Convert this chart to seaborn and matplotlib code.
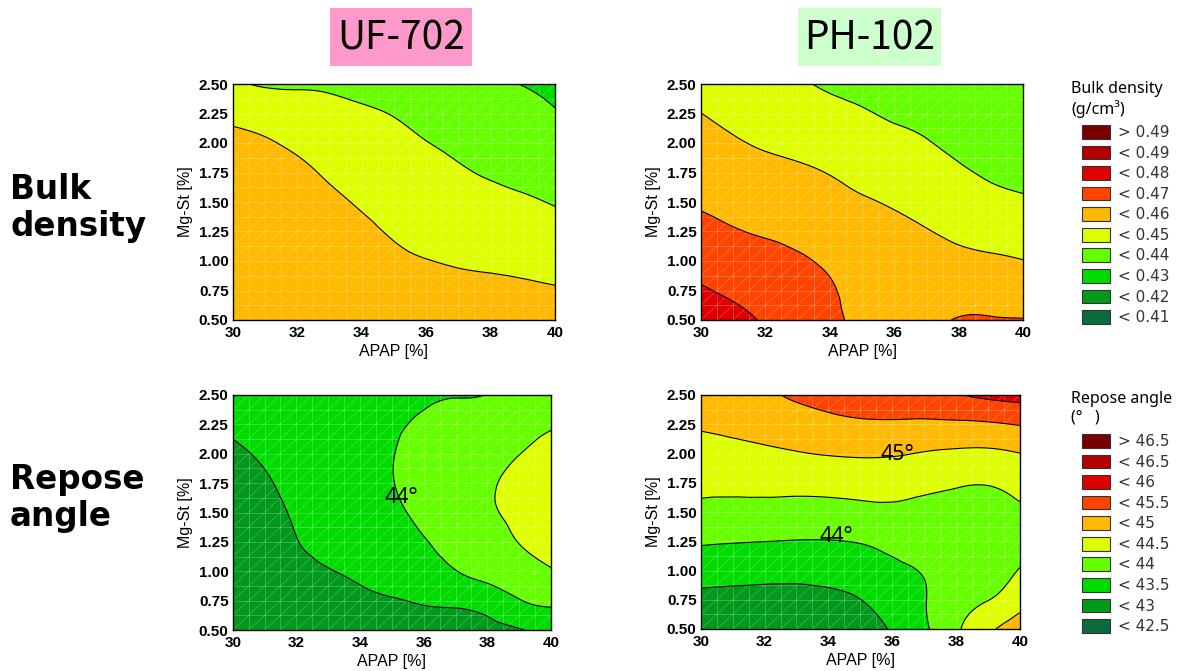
import numpy as np
import matplotlib
matplotlib.use("Agg")
import matplotlib.pyplot as plt
import matplotlib.tri as mtri
import seaborn as sns
from matplotlib.patches import Rectangle, Patch

# ---------------- data ----------------
apap = [30, 31, 32, 33, 34, 35, 36, 37, 38, 39, 40]
mgst = [2.5, 2.25, 2.0, 1.75, 1.5, 1.25, 1.0, 0.75, 0.5]   # rows, top to bottom

uf_bulk = [
    [0.4412, 0.4393, 0.4391, 0.4390, 0.4381, 0.4373, 0.4352, 0.4327, 0.4315, 0.4298, 0.4276],
    [0.4471, 0.4452, 0.4436, 0.4422, 0.4409, 0.4397, 0.4377, 0.4354, 0.4328, 0.4325, 0.4306],
    [0.4531, 0.4512, 0.4480, 0.4455, 0.4436, 0.4421, 0.4402, 0.4382, 0.4359, 0.4353, 0.4336],
    [0.4550, 0.4550, 0.4525, 0.4487, 0.4464, 0.4445, 0.4427, 0.4410, 0.4391, 0.4380, 0.4365],
    [0.4560, 0.4560, 0.4550, 0.4520, 0.4491, 0.4469, 0.4452, 0.4438, 0.4423, 0.4410, 0.4395],
    [0.4565, 0.4565, 0.4560, 0.4545, 0.4519, 0.4492, 0.4477, 0.4466, 0.4454, 0.4445, 0.4431],
    [0.4570, 0.4570, 0.4565, 0.4560, 0.4542, 0.4516, 0.4502, 0.4493, 0.4486, 0.4479, 0.4469],
    [0.4570, 0.4570, 0.4570, 0.4565, 0.4555, 0.4535, 0.4525, 0.4521, 0.4518, 0.4513, 0.4506],
    [0.4570, 0.4570, 0.4570, 0.4570, 0.4565, 0.4550, 0.4545, 0.4540, 0.4535, 0.4535, 0.4530],
]

ph_bulk = [
    [0.4471, 0.4445, 0.4423, 0.4411, 0.4387, 0.4374, 0.4355, 0.4339, 0.4310, 0.4320, 0.4320],
    [0.4501, 0.4477, 0.4457, 0.4445, 0.4424, 0.4408, 0.4389, 0.4372, 0.4341, 0.4340, 0.4335],
    [0.4531, 0.4509, 0.4491, 0.4479, 0.4460, 0.4442, 0.4423, 0.4405, 0.4377, 0.4360, 0.4355],
    [0.4561, 0.4541, 0.4524, 0.4513, 0.4497, 0.4476, 0.4457, 0.4438, 0.4413, 0.4387, 0.4370],
    [0.4590, 0.4573, 0.4558, 0.4546, 0.4527, 0.4509, 0.4491, 0.4471, 0.4449, 0.4428, 0.4414],
    [0.4627, 0.4606, 0.4592, 0.4578, 0.4556, 0.4543, 0.4524, 0.4504, 0.4484, 0.4470, 0.4458],
    [0.4668, 0.4646, 0.4627, 0.4610, 0.4586, 0.4560, 0.4550, 0.4537, 0.4520, 0.4512, 0.4502],
    [0.4708, 0.4686, 0.4660, 0.4635, 0.4610, 0.4570, 0.4565, 0.4560, 0.4560, 0.4560, 0.4550],
    [0.4740, 0.4725, 0.4690, 0.4655, 0.4625, 0.4575, 0.4575, 0.4580, 0.4605, 0.4605, 0.4603],
]

uf_repose = [
    [43.225, 43.275, 43.300, 43.350, 43.400, 43.425, 43.450, 43.485, 43.510, 43.750, 43.875],
    [43.075, 43.175, 43.250, 43.325, 43.390, 43.460, 43.550, 43.650, 43.725, 43.875, 43.975],
    [42.925, 43.060, 43.200, 43.300, 43.375, 43.485, 43.650, 43.775, 43.875, 43.995, 44.100],
    [42.800, 42.950, 43.125, 43.250, 43.350, 43.485, 43.675, 43.825, 43.950, 44.100, 44.200],
    [42.725, 42.850, 43.050, 43.175, 43.300, 43.425, 43.600, 43.775, 43.940, 44.100, 44.225],
    [42.675, 42.750, 42.985, 43.100, 43.225, 43.350, 43.475, 43.650, 43.825, 44.010, 44.150],
    [42.650, 42.700, 42.875, 42.985, 43.075, 43.200, 43.300, 43.485, 43.675, 43.800, 43.965],
    [42.625, 42.675, 42.775, 42.875, 42.925, 42.975, 43.035, 43.075, 43.200, 43.475, 43.600],
    [42.600, 42.650, 42.700, 42.775, 42.800, 42.850, 42.900, 42.910, 42.900, 42.970, 43.175],
]

ph_repose = [
    [44.800, 44.850, 44.925, 45.075, 45.200, 45.300, 45.275, 45.250, 45.450, 45.600, 45.675],
    [44.560, 44.625, 44.700, 44.775, 44.860, 44.925, 44.940, 44.925, 44.925, 44.950, 45.025],
    [44.325, 44.350, 44.410, 44.475, 44.525, 44.550, 44.540, 44.475, 44.425, 44.410, 44.495],
    [44.150, 44.100, 44.125, 44.150, 44.175, 44.210, 44.210, 44.150, 44.060, 44.025, 44.125],
    [43.850, 43.875, 43.860, 43.825, 43.825, 43.860, 43.900, 43.850, 43.800, 43.850, 43.950],
    [43.550, 43.525, 43.505, 43.485, 43.485, 43.525, 43.650, 43.775, 43.750, 43.775, 43.850],
    [43.200, 43.175, 43.150, 43.140, 43.150, 43.225, 43.375, 43.540, 43.725, 43.800, 44.025],
    [42.890, 42.860, 42.850, 42.850, 42.900, 42.995, 43.200, 43.475, 43.800, 43.990, 44.300],
    [42.650, 42.625, 42.600, 42.600, 42.625, 42.750, 43.050, 43.425, 43.925, 44.400, 44.800],
]

bulk_levels = [0.40, 0.41, 0.42, 0.43, 0.44, 0.45, 0.46, 0.47, 0.48, 0.49, 0.50]
repose_levels = [42.0, 42.5, 43.0, 43.5, 44.0, 44.5, 45.0, 45.5, 46.0, 46.5, 47.0]
band_colors = ["#0b6b3c", "#009a1a", "#00dc00", "#66ff00", "#deff00",
               "#ffb900", "#ff4400", "#e00000", "#b40000", "#7a0000"]
bulk_labels = ["< 0.41", "< 0.42", "< 0.43", "< 0.44", "< 0.45",
               "< 0.46", "< 0.47", "< 0.48", "< 0.49", "> 0.49"]
repose_labels = ["< 42.5", "< 43", "< 43.5", "< 44", "< 44.5",
                 "< 45", "< 45.5", "< 46", "< 46.5", "> 46.5"]
x_ticks = [30, 32, 34, 36, 38, 40]
y_ticks = [0.50, 0.75, 1.00, 1.25, 1.50, 1.75, 2.00, 2.25, 2.50]

# ---------------- figure ----------------
sns.set_theme(style="white")
plt.rcParams["font.family"] = ["Liberation Sans", "DejaVu Sans"]
plt.rcParams["text.color"] = "black"
plt.rcParams["axes.labelcolor"] = "black"
plt.rcParams["xtick.color"] = "black"
plt.rcParams["ytick.color"] = "black"

W, H = 1178, 671
fig = plt.figure(figsize=(W / 100, H / 100), dpi=100)


def px_axes(l, t, r, b):
    return fig.add_axes([l / W, 1 - b / H, (r - l) / W, (b - t) / H])


panels = [
    (px_axes(232.7, 84, 555, 320), uf_bulk, bulk_levels),
    (px_axes(700.7, 84, 1023.3, 320), ph_bulk, bulk_levels),
    (px_axes(232.7, 395, 551, 630), uf_repose, repose_levels),
    (px_axes(700.7, 395, 1020, 629), ph_repose, repose_levels),
]

X, Y = np.meshgrid(apap, mgst)
triang = mtri.Triangulation(X.ravel(), Y.ravel())
refiner = mtri.UniformTriRefiner(triang)

for ax, z, lev in panels:
    Z = np.array(z, dtype=float).ravel()
    interp = mtri.CubicTriInterpolator(triang, Z, kind="min_E")
    tri_f, z_f = refiner.refine_field(Z, triinterpolator=interp, subdiv=3)
    ax.tricontourf(tri_f, z_f, levels=lev, colors=band_colors, antialiased=True)
    # faint white mesh of the fitted surface
    for xv in np.arange(30.5, 40, 0.5):
        ax.plot([xv, xv], [0.5, 2.5], color="white", lw=0.6, alpha=0.25, zorder=2)
    for yv in np.arange(0.625, 2.5, 0.125):
        ax.plot([30, 40], [yv, yv], color="white", lw=0.6, alpha=0.25, zorder=2)
    for c in np.arange(22, 40, 0.5):
        ax.plot([c, c + 8], [0.5, 2.5], color="white", lw=0.6, alpha=0.22, zorder=2)
    ax.tricontour(tri_f, z_f, levels=lev[1:-1], colors="black", linewidths=0.8, zorder=3)
    ax.set_xlim(30, 40)
    ax.set_ylim(0.5, 2.5)
    ax.set_xticks(x_ticks)
    ax.set_yticks(y_ticks)
    ax.set_xticklabels([f"{t}" for t in x_ticks], fontsize=11, fontweight="bold")
    ax.set_yticklabels([f"{t:.2f}" for t in y_ticks], fontsize=11, fontweight="bold")
    ax.tick_params(axis="x", direction="in", length=3, width=0.8, pad=4, colors="black")
    ax.tick_params(axis="y", direction="in", length=3, width=0.8, pad=3, colors="black")
    ax.set_xlabel("APAP [%]", fontsize=11.5, labelpad=3)
    ax.set_ylabel("Mg-St [%]", fontsize=11.5, labelpad=4)
    for s in ax.spines.values():
        s.set_color("black")
        s.set_linewidth(1.0)
        s.set_zorder(5)

# contour annotations
for ax_i, xx, yy, txt in [(2, 35.3, 1.63, "44°"), (3, 36.15, 1.99, "45°"), (3, 34.25, 1.29, "44°")]:
    panels[ax_i][0].text(xx, yy, txt, fontsize=15.5, ha="center", va="center",
                         color="black", family=["Noto Sans", "DejaVu Sans"], zorder=6)

# column titles
for (l, r, label, col) in [(330, 472, "UF-702", "#ff99cc"), (798, 941, "PH-102", "#ccffcc")]:
    fig.patches.append(Rectangle((l / W, 1 - 66 / H), (r - l) / W, 58 / H,
                                 transform=fig.transFigure, facecolor=col,
                                 edgecolor="none", zorder=0))
    fig.text((l + r) / 2 / W, 1 - 38 / H, label, ha="center", va="center",
             fontsize=28, color="black", family=["Noto Sans CJK JP", "DejaVu Sans"])

# row titles
fig.text(10 / W, 1 - 208 / H, "Bulk\ndensity", ha="left", va="center", fontsize=23.5,
         fontweight="bold", color="black", family=["DejaVu Sans"], linespacing=1.12)
fig.text(10 / W, 1 - 498 / H, "Repose\nangle", ha="left", va="center", fontsize=23.5,
         fontweight="bold", color="black", family=["DejaVu Sans"], linespacing=1.12)


# legends
def add_legend(title, labels, top_title, top_boxes):
    fig.text(1071 / W, 1 - top_title / H, title, ha="left", va="top", fontsize=11.5,
             color="black", family=["Noto Sans", "DejaVu Sans"], linespacing=1.25)
    handles = [Patch(facecolor=c, edgecolor="#333333", linewidth=0.8) for c in band_colors[::-1]]
    leg = fig.legend(handles, labels[::-1], loc="upper left",
                     bbox_to_anchor=(1082 / W, 1 - top_boxes / H),
                     frameon=False, borderpad=0, borderaxespad=0,
                     handlelength=1.85, handleheight=1.0, handletextpad=0.5,
                     labelspacing=0.36, prop={"family": ["DejaVu Sans"], "size": 11})
    for t in leg.get_texts():
        t.set_color("#333333")


add_legend("Bulk density\n(g/cm³)", bulk_labels, 81, 125)
add_legend("Repose angle\n(°   )", repose_labels, 391, 434)

fig.savefig("out.png", dpi=100)
